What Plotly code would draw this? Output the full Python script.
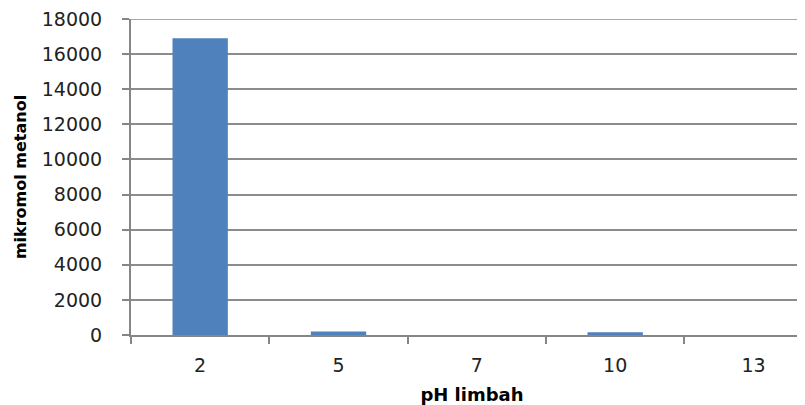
import plotly.graph_objects as go

categories = ["2", "5", "7", "10", "13"]
values = [16900, 205, 0, 150, 0]
y_ticks = [0, 2000, 4000, 6000, 8000, 10000, 12000, 14000, 16000, 18000]

fig = go.Figure()
fig.add_trace(go.Bar(
    x=categories, y=values,
    marker=dict(color="#4F81BD", line=dict(width=0)),
))

fig.update_layout(
    width=805, height=405,
    margin=dict(l=123, r=0, t=11, b=78, autoexpand=False),
    paper_bgcolor="white", plot_bgcolor="white",
    bargap=0.6,
    showlegend=False,
    font=dict(family="DejaVu Sans", size=16, color="#222222"),
)
fig.update_xaxes(
    type="category",
    range=[-0.5, 4.43],
    tickson="boundaries",
    automargin=False,
    ticks="outside", ticklen=7, tickwidth=2, tickcolor="#868686",
    showline=True, linecolor="#868686", linewidth=2,
    showgrid=False,
    ticklabelstandoff=12,
    tickfont=dict(family="DejaVu Sans", size=19, color="#222222"),
    title=dict(text="<b>pH limbah</b>", font=dict(family="DejaVu Sans", size=18, color="#000000"), standoff=14),
)
fig.update_yaxes(
    range=[0, 18000],
    tickvals=y_ticks,
    ticktext=[str(v) for v in y_ticks],
    automargin=False,
    ticklabeloverflow="allow",
    ticks="outside", ticklen=7, tickwidth=2, tickcolor="#868686",
    showline=True, linecolor="#868686", linewidth=2,
    showgrid=True, gridcolor="#8C8C8C", gridwidth=1.5,
    zeroline=False,
    ticklabelstandoff=16,
    tickfont=dict(family="DejaVu Sans", size=19, color="#222222"),
    title=dict(text="<b>mikromol metanol</b>", font=dict(family="DejaVu Sans", size=16, color="#000000"), standoff=11),
)
fig.add_hline(y=y_ticks[-1], line=dict(color="#8C8C8C", width=1.5))

fig.write_html("out.html")
